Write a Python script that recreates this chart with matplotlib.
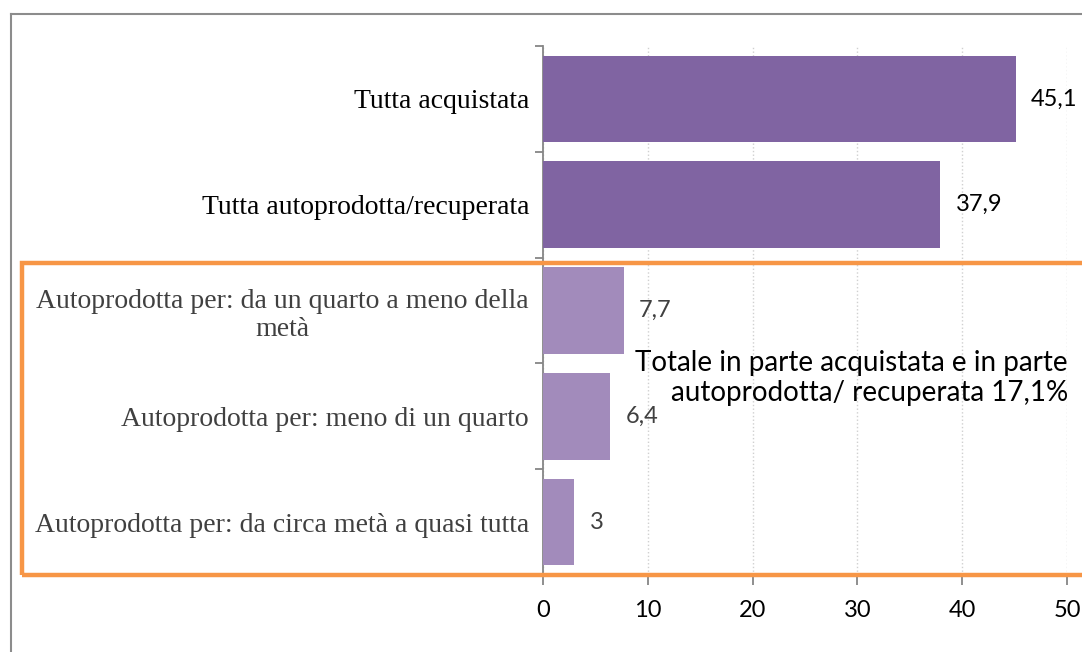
import matplotlib.pyplot as plt
from matplotlib.patches import Rectangle
from matplotlib.lines import Line2D

# data, top to bottom
categories = [
    "Tutta acquistata",
    "Tutta autoprodotta/recuperata",
    "Autoprodotta per: da un quarto a meno della\nmetà",
    "Autoprodotta per: meno di un quarto",
    "Autoprodotta per: da circa metà a quasi tutta",
]
values = [45.1, 37.9, 7.7, 6.4, 3]
value_labels = ["45,1", "37,9", "7,7", "6,4", "3"]
x_ticks = [0, 10, 20, 30, 40, 50]
note = "Totale in parte acquistata e in parte\nautoprodotta/ recuperata 17,1%"

dark = "#8064A2"
light = "#A28BBB"
colors = [dark, dark, light, light, light]
txt_colors = ["black", "black", "#404040", "#404040", "#404040"]

fig = plt.figure(figsize=(10.82, 6.52), dpi=100)
ax = fig.add_axes([543/1082, 1-575/652, (1067-543)/1082, (575-46)/652])

pos = list(range(len(values)))
ax.barh(pos, values, height=0.82, color=colors, zorder=3)
ax.set_ylim(4.5, -0.5)
ax.set_xlim(0, 50)

# value labels
for p, v, lab, c in zip(pos, values, value_labels, txt_colors):
    ax.annotate(lab, (v, p), xytext=(11, 0), textcoords="offset points",
                va="center", ha="left", fontsize=17, family="Lato", color=c)

# category labels
ax.set_yticks(pos)
ax.set_yticklabels(categories, family="Liberation Serif", fontsize=20,
                   multialignment="center", linespacing=1.2)
for t, c in zip(ax.get_yticklabels(), txt_colors):
    t.set_color(c)
ax.tick_params(axis="y", which="major", length=0, pad=10)
ax.set_yticks([p - 0.5 for p in pos] + [4.5], minor=True)
ax.tick_params(axis="y", which="minor", length=6, color="#868686", width=1.3)

ax.set_xticks(x_ticks)
ax.set_xticklabels([str(x) for x in x_ticks], family="Lato", fontsize=17)
ax.tick_params(axis="x", length=7, color="#868686", width=1.3, pad=11)

ax.grid(axis="x", linestyle=":", color="#d0d0d0", linewidth=1, zorder=0)
for s in ["top", "right"]:
    ax.spines[s].set_visible(False)
for s in ["left", "bottom"]:
    ax.spines[s].set_color("#868686")
    ax.spines[s].set_linewidth(1.3)

ax.text(50.1, 2.64, note, ha="right", va="center", fontsize=20,
        family="Lato", color="black", linespacing=1.2, zorder=5)

# orange frame around the partial group
fig.add_artist(Rectangle((22/1082, 1-575/652), 1.1, (575-263)/652,
                         transform=fig.transFigure, fill=False,
                         edgecolor="#F79646", linewidth=3.2, zorder=10))

# outer border of the picture
fig.add_artist(Line2D([11/1082, 11/1082], [0, 1-14/652], transform=fig.transFigure,
                      color="#8c8c8c", linewidth=1.5))
fig.add_artist(Line2D([11/1082, 1], [1-14/652, 1-14/652], transform=fig.transFigure,
                      color="#8c8c8c", linewidth=1.5))

fig.savefig("out.png", dpi=100)
